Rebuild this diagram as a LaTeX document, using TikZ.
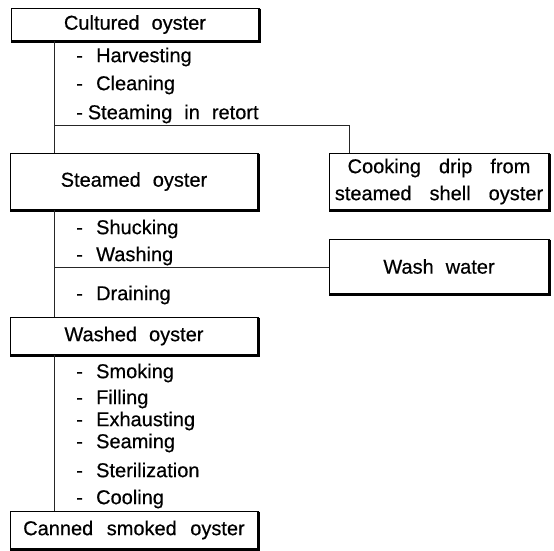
\documentclass[tikz,border=0pt]{standalone}
\usepackage{fontspec}
\setmainfont{Liberation Sans}[FakeBold=0.5]
\newcommand{\wsp}{\spaceskip=12pt\relax}
\newcommand{\cksp}{\spaceskip=18pt\relax}
\newcommand{\dsh}{-\hspace{13.3pt}}
\begin{document}
\begin{tikzpicture}[x=1pt,y=-1pt,
  box/.style={draw, line width=0.6pt, inner sep=0pt, align=center, font=\fontsize{20}{27}\selectfont},
  stepitem/.style={anchor=west, inner sep=0pt, font=\fontsize{20}{24}\selectfont, text height=14.3pt, text depth=0pt},
  link/.style={line width=0.6pt, draw=black!85},
  shade/.style={line width=2.6pt}]
\useasboundingbox (0,0) rectangle (554,551);
% boxes
\node[box, minimum width=248pt, minimum height=33pt] (cult) at (135,24.5) {\wsp Cultured oyster};
\node[box, minimum width=248pt, minimum height=57pt] (steam) at (134,181.5) {\wsp Steamed oyster};
\node[box, minimum width=220pt, minimum height=57pt] (cook) at (439,181.5) {\cksp Cooking drip from\\\cksp steamed shell oyster};
\node[box, minimum width=220pt, minimum height=55pt] (washw) at (439,266.5) {\wsp Wash water};
\node[box, minimum width=248pt, minimum height=38pt] (washed) at (134,336) {\wsp Washed oyster};
\node[box, minimum width=248pt, minimum height=38pt] (canned) at (134,530) {\spaceskip=13.5pt\relax Canned smoked oyster};
\foreach \n in {cult,steam,cook,washw,washed,canned}
  \draw[shade] ([yshift=-1pt]\n.north east) -- (\n.south east) -- (\n.south west);
% step labels
\node[stepitem] (s1) at (76,55) {\dsh Harvesting};
\node[stepitem] (s2) at (76,83) {\dsh Cleaning};
\node[stepitem] (s3) at (76,112) {\wsp -\hspace{5pt}Steaming in retort};
\node[stepitem] (s4) at (76,227) {\dsh Shucking};
\node[stepitem] (s5) at (76,254) {\dsh Washing};
\node[stepitem] (s6) at (76,293) {\dsh Draining};
\node[stepitem] (s7) at (76,371) {\dsh Smoking};
\node[stepitem] (s8) at (76,397) {\dsh Filling};
\node[stepitem] (s9) at (76,419) {\dsh Exhausting};
\node[stepitem] (s10) at (76,441) {\dsh Seaming};
\node[stepitem] (s11) at (76,470) {\dsh Sterilization};
\node[stepitem] (s12) at (76,497) {\dsh Cooling};
% connectors
\coordinate (spine) at (54,0);
\coordinate (j1) at (54,125);
\coordinate (j2) at (54,267);
\draw[link] (cult.south -| spine) -- (steam.north -| spine);
\draw[link] (j1) -| ([xshift=21pt]cook.north west);
\draw[link] (steam.south -| spine) -- (washed.north -| spine);
\draw[link] (j2) -- (j2 -| washw.west);
\draw[link] (washed.south -| spine) -- (canned.north -| spine);
\end{tikzpicture}
\end{document}
